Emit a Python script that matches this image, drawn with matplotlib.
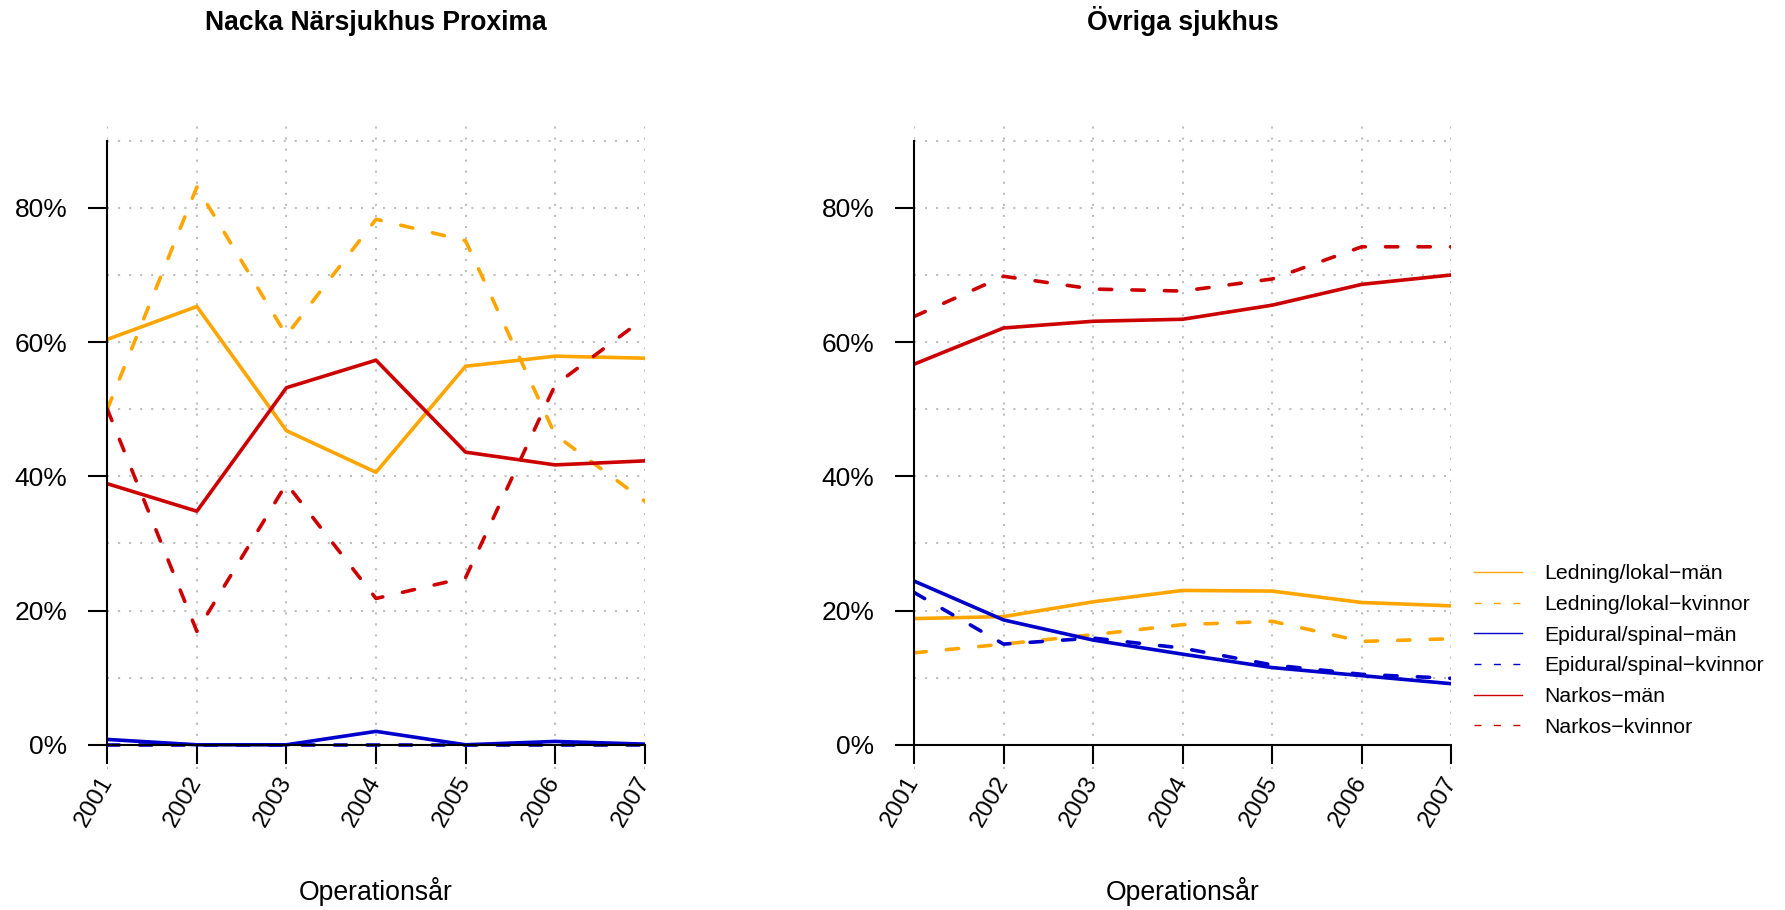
import matplotlib.pyplot as plt
from matplotlib.lines import Line2D
from matplotlib.ticker import FixedLocator
import numpy as np

plt.rcParams['font.family'] = ['Liberation Sans', 'DejaVu Sans']

years = [2001, 2002, 2003, 2004, 2005, 2006, 2007]

# andel (%) per anestesiform och kön
nacka = {
    'Ledning/lokal-män':       [60.4, 65.3, 46.8, 40.6, 56.4, 57.9, 57.6],
    'Ledning/lokal-kvinnor':   [50.0, 83.1, 61.0, 78.3, 75.1, 46.2, 36.3],
    'Epidural/spinal-män':     [0.8, 0.0, 0.0, 2.0, 0.0, 0.5, 0.1],
    'Epidural/spinal-kvinnor': [0.0, 0.0, 0.0, 0.0, 0.0, 0.0, 0.0],
    'Narkos-män':              [38.9, 34.8, 53.2, 57.3, 43.6, 41.7, 42.3],
    'Narkos-kvinnor':          [50.0, 16.9, 38.9, 21.8, 24.9, 53.6, 63.6],
}
ovriga = {
    'Ledning/lokal-män':       [18.8, 19.1, 21.3, 23.0, 22.9, 21.2, 20.7],
    'Ledning/lokal-kvinnor':   [13.7, 15.0, 16.4, 17.9, 18.4, 15.4, 15.8],
    'Epidural/spinal-män':     [24.4, 18.6, 15.6, 13.5, 11.5, 10.3, 9.1],
    'Epidural/spinal-kvinnor': [22.7, 15.0, 15.9, 14.4, 11.9, 10.5, 9.9],
    'Narkos-män':              [56.7, 62.1, 63.1, 63.4, 65.5, 68.6, 70.0],
    'Narkos-kvinnor':          [63.8, 69.8, 67.9, 67.6, 69.4, 74.2, 74.2],
}
titles = ['Nacka Närsjukhus Proxima', 'Övriga sjukhus']
legend_labels = ['Ledning/lokal\u2212män', 'Ledning/lokal\u2212kvinnor',
                 'Epidural/spinal\u2212män', 'Epidural/spinal\u2212kvinnor',
                 'Narkos\u2212män', 'Narkos\u2212kvinnor']

colors = ['#FFA500', '#FFA500', '#0000CD', '#0000CD', '#CD0000', '#CD0000']
solid = '-'
dashed = (0, (3.4, 5.6))

fig = plt.figure(figsize=(17.85, 9.1), dpi=100)
ax1 = fig.add_axes([107.3/1785, 0.155, 537.4/1785, 0.7088])
ax2 = fig.add_axes([914.0/1785, 0.155, 537.4/1785, 0.7088])

for ax, data, title in zip([ax1, ax2], [nacka, ovriga], titles):
    for i, (name, vals) in enumerate(data.items()):
        ls = solid if i % 2 == 0 else dashed
        ax.plot(years, vals, color=colors[i], lw=2.6, linestyle=ls,
                dash_capstyle='round', solid_capstyle='round', zorder=3)

    ax.set_xlim(2001, 2007)
    ax.set_ylim(-3.6, 92.5)

    for s in ['top', 'right']:
        ax.spines[s].set_visible(False)
    ax.spines['left'].set_bounds(0, 90)
    ax.spines['bottom'].set_position(('data', 0))
    ax.spines['bottom'].set_bounds(2001, 2007)
    ax.spines['left'].set_linewidth(1.5)
    ax.spines['bottom'].set_linewidth(1.5)
    ax.spines['left'].set_zorder(4)
    ax.spines['bottom'].set_zorder(4)

    ax.set_yticks([0, 20, 40, 60, 80])
    ax.set_yticklabels(['0%', '20%', '40%', '60%', '80%'], fontsize=19)
    ax.yaxis.set_minor_locator(FixedLocator([10, 30, 50, 70, 90]))
    ax.tick_params(axis='y', which='major', length=13.7, width=1.5, pad=15)
    ax.tick_params(axis='y', which='minor', length=0)

    ax.set_xticks(years)
    ax.set_xticklabels([str(y) for y in years], fontsize=17.5, rotation=60,
                       ha='right', va='center', rotation_mode='anchor')
    ax.tick_params(axis='x', length=13.7, width=1.5, pad=10)

    ax.grid(True, which='both', color='#bebebe', lw=1.5,
            linestyle=(0, (1, 4.3)), zorder=0)
    ax.set_axisbelow(True)

    ax.set_title(title, fontsize=19.1, fontweight='bold', pad=67.5)
    ax.text(0.5, -0.1907, 'Operationsår', transform=ax.transAxes,
            ha='center', va='center', fontsize=19.2)

handles = []
for i in range(6):
    ls = '-' if i % 2 == 0 else (0, (5, 9))
    handles.append(Line2D([], [], color=colors[i], lw=1.0, linestyle=ls))
fig.legend(handles, legend_labels, loc='center left',
           bbox_to_anchor=(1474/1785, 1 - 650.5/910), frameon=False,
           fontsize=15.3, handlelength=2.25, handletextpad=1.05,
           labelspacing=0.55, borderpad=0, borderaxespad=0)

fig.savefig('out.png', dpi=100)
